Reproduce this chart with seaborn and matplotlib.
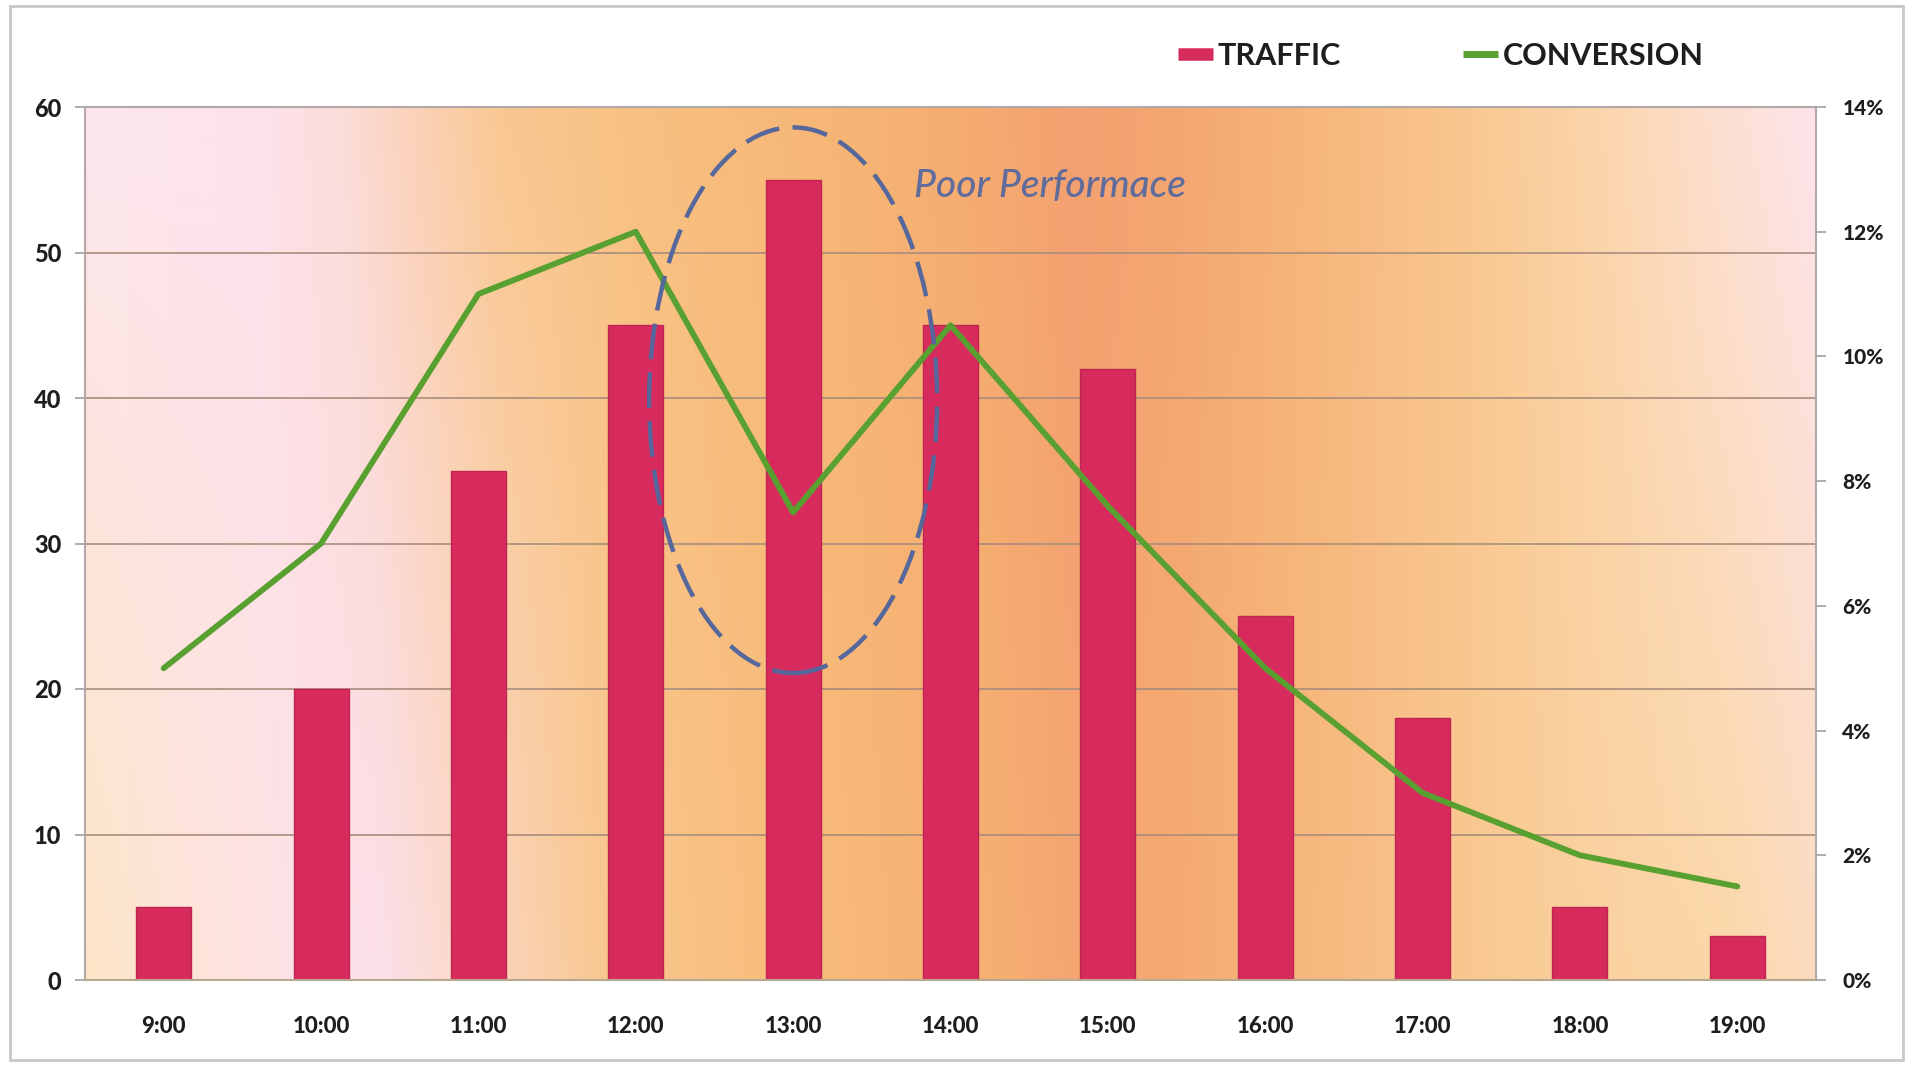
import numpy as np
import pandas as pd
import matplotlib
matplotlib.use("Agg")
import matplotlib.pyplot as plt
import seaborn as sns
from matplotlib.patches import Ellipse, Rectangle
from matplotlib.lines import Line2D
from matplotlib.colors import to_rgb
from matplotlib.ticker import FuncFormatter

# ---- data ----
hours = ["9:00", "10:00", "11:00", "12:00", "13:00", "14:00",
         "15:00", "16:00", "17:00", "18:00", "19:00"]
traffic = [5, 20, 35, 45, 55, 45, 42, 25, 18, 5, 3]
conversion = [5.0, 7.0, 11.0, 12.0, 7.5, 10.5, 7.6, 5.0, 3.0, 2.0, 1.5]
left_ticks = [0, 10, 20, 30, 40, 50, 60]
right_ticks = [0, 2, 4, 6, 8, 10, 12, 14]
annotation_text = "Poor Performace"
legend_labels = ["TRAFFIC", "CONVERSION"]

df = pd.DataFrame({"hour": hours, "traffic": traffic, "conversion": conversion})

sns.set_theme(style="white")
plt.rcParams["font.family"] = ["Lato", "DejaVu Sans"]
plt.rcParams["font.weight"] = "bold"

BAR = "#d72a5d"
GREEN = "#58a02f"
ELL = "#56679c"
TXT = "#1e1e1e"

fig = plt.figure(figsize=(19.08, 10.68), dpi=100)
fig.patch.set_facecolor("white")
ax = fig.add_axes([85 / 1908, 1 - 980 / 1068, (1816 - 85) / 1908, (980 - 107) / 1068])

# ---- background gradient ----
top_stops = [(0.00, "#fde6ee"), (0.10, "#fde2ec"), (0.15, "#fcdcd8"), (0.19, "#fbd2b8"),
             (0.24, "#f9c892"), (0.33, "#f8c080"), (0.45, "#f6b474"), (0.52, "#f5aa70"),
             (0.57, "#f3a070"), (0.63, "#f4a672"), (0.71, "#f6b67c"), (0.80, "#f9c890"),
             (0.88, "#fbd6ae"), (0.95, "#fde0d4"), (1.00, "#fde4ea")]
bot_stops = [(0.00, "#fce6c6"), (0.05, "#fde4d6"), (0.12, "#fde2e6"), (0.17, "#fce0ea"),
             (0.22, "#fbd8c8"), (0.30, "#f9c890"), (0.40, "#f8bd7c"), (0.52, "#f6b072"),
             (0.57, "#f4a672"), (0.63, "#f5aa72"), (0.71, "#f6b87e"), (0.80, "#f9c890"),
             (0.88, "#fad2a0"), (0.95, "#fbd8a8"), (1.00, "#fbdcc0")]
W, H = 600, 200
xs = np.linspace(0, 1, W)

def row(stops):
    pos = [s[0] for s in stops]
    cols = np.array([to_rgb(s[1]) for s in stops])
    return np.stack([np.interp(xs, pos, cols[:, k]) for k in range(3)], axis=-1)

top_row, bot_row = row(top_stops), row(bot_stops)
t = np.linspace(0, 1, H)[:, None, None]
img = top_row[None, :, :] * (1 - t) + bot_row[None, :, :] * t
ax.imshow(img, extent=[-0.5, 10.5, 0, 60], aspect="auto", zorder=0, origin="upper")

# grid lines
for v in left_ticks[1:-1]:
    ax.axhline(v, color="#a88c7c", lw=1.4, alpha=0.85, zorder=1)

# ---- bars ----
sns.barplot(data=df, x="hour", y="traffic", order=hours, color=BAR, width=0.35,
            saturation=1, edgecolor="#c02452", linewidth=1.0, ax=ax, zorder=2)

ax.set_xlim(-0.5, 10.5)
ax.set_ylim(0, 60)
ax.set_yticks(left_ticks)
ax.set_xlabel("")
ax.set_ylabel("")
ax.set_xticks(range(len(hours)))
ax.set_xticklabels(hours)
ax.set_xticks(np.arange(-0.5, 11, 1), minor=True)
ax.tick_params(axis="x", which="major", length=0, pad=26, labelsize=16, labelcolor=TXT)
ax.tick_params(axis="x", which="minor", length=7, width=1.2, color="#a0a0a0", direction="out")
ax.tick_params(axis="y", which="major", length=7, width=1.2, color="#a0a0a0",
               direction="out", labelsize=17, labelcolor=TXT, pad=10)

for side in ["left", "top", "right"]:
    ax.spines[side].set_color("#b4a8a8")
    ax.spines[side].set_linewidth(1.5)
ax.spines["bottom"].set_color("#b8a890")
ax.spines["bottom"].set_linewidth(1.5)

# ---- line on twin axis ----
ax2 = ax.twinx()
sns.lineplot(data=df, x="hour", y="conversion", color=GREEN, lw=4.2, ax=ax2,
             sort=False, zorder=3)
ax2.set_ylim(0, 14)
ax2.set_xlim(-0.5, 10.5)
ax2.set_yticks(right_ticks)
ax2.yaxis.set_major_formatter(FuncFormatter(lambda v, p: f"{int(v)}%"))
ax2.set_ylabel("")
ax2.set_xlabel("")
ax2.tick_params(axis="y", length=7, width=1.2, color="#a0a0a0", direction="out",
                labelsize=15, labelcolor=TXT, pad=12)
for side in ["left", "top", "right", "bottom"]:
    ax2.spines[side].set_visible(False)
ax2.grid(False)
ax.grid(False)

# heavy tick labels
fig.canvas.draw()
for lab in ax.get_xticklabels() + ax.get_yticklabels() + ax2.get_yticklabels():
    lab.set_fontweight("black")

# ---- highlight ellipse and annotation ----
ell = Ellipse((4, 39.85), width=1.83, height=37.5, transform=ax.transData,
              fill=False, edgecolor=ELL, lw=3.2, linestyle=(0, (8, 3)), zorder=5)
ax2.add_patch(ell)
ax2.text(4.77, 54.6, annotation_text, transform=ax.transData, fontsize=28,
         style="italic", fontweight="medium", color="#5f6c9c", va="center",
         ha="left", zorder=6)

# ---- legend ----
handles = [Line2D([0], [0], color=BAR, lw=9, solid_capstyle="butt"),
           Line2D([0], [0], color=GREEN, lw=5, solid_capstyle="butt")]
leg = fig.legend(handles, legend_labels, loc="center", bbox_to_anchor=(0.755, 0.948),
                 ncol=2, frameon=False, handlelength=1.15, handletextpad=0.15,
                 columnspacing=4.0, prop={"size": 22, "weight": "bold"})
for txt in leg.get_texts():
    txt.set_color(TXT)

# outer frame
fig.patches.append(Rectangle((10 / 1908, 8 / 1068), 1 - 15 / 1908, 1 - 14 / 1068,
                             transform=fig.transFigure, fill=False,
                             edgecolor="#c8c8c8", lw=2, zorder=0))

fig.savefig("out.png", dpi=100)
